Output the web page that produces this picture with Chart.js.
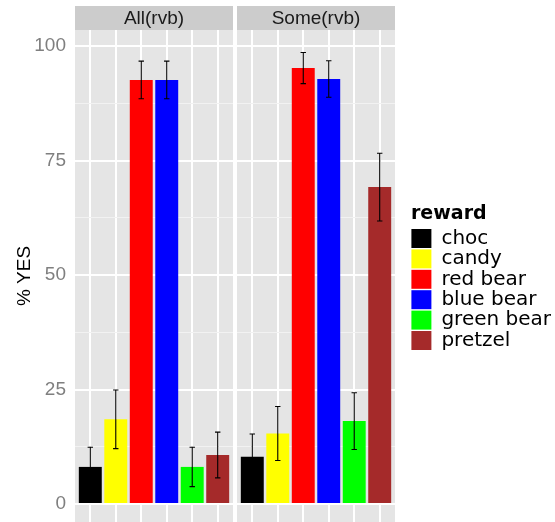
<!DOCTYPE html>
<html>
<head>
<meta charset="utf-8">
<script src="https://cdn.jsdelivr.net/npm/chart.js@4.4.1/dist/chart.umd.min.js"></script>
<style>
    body { margin: 0; background: #fff; overflow: hidden; }
    canvas { position: absolute; top: 0; }
</style>
</head>
<body>
<canvas id="allChart" width="233" height="522" style="left:0"></canvas>
<canvas id="someChart" width="318" height="522" style="left:237px"></canvas>
<script>
// 数据
const categories = ['choc', 'candy', 'red bear', 'blue bear', 'green bear', 'pretzel'];
const barColors = ['#000000', '#ffff00', '#ff0000', '#0000ff', '#00ff00', '#a52a2a'];
const panelNames = ['All(rvb)', 'Some(rvb)'];
const allPct = [8.1, 18.5, 92.6, 92.6, 8.1, 10.7];
const allErr = [4.3, 6.4, 4.1, 4.1, 4.3, 5.0];
const somePct = [10.3, 15.4, 95.2, 92.8, 18.1, 69.2];
const someErr = [5.0, 5.9, 3.4, 4.0, 6.2, 7.4];
const yTicks = [0, 25, 50, 75, 100];

const sans = '"Liberation Sans", Arial, sans-serif';

// 灰色面板 + 分面标签
const ggPanel = {
    id: 'ggPanel',
    beforeDraw(chart, args, opts) {
        const { ctx, chartArea: a } = chart;
        ctx.save();
        ctx.fillStyle = '#e5e5e5';
        ctx.fillRect(a.left, a.top, a.right - a.left, a.bottom - a.top);
        ctx.fillStyle = '#cccccc';
        ctx.fillRect(a.left, a.top - 24, a.right - a.left, 24);
        ctx.fillStyle = '#1a1a1a';
        ctx.font = '19px ' + sans;
        ctx.textAlign = 'center';
        ctx.textBaseline = 'middle';
        ctx.fillText(opts.strip, (a.left + a.right) / 2, a.top - 11.5);
        ctx.restore();
    }
};

// 误差线
const errBars = {
    id: 'errBars',
    afterDatasetsDraw(chart, args, opts) {
        const { ctx } = chart;
        const y = chart.scales.y;
        const meta = chart.getDatasetMeta(0);
        const vals = chart.data.datasets[0].data;
        ctx.save();
        ctx.strokeStyle = '#000';
        ctx.lineWidth = 1.1;
        meta.data.forEach((bar, i) => {
            const v = vals[i].y, e = opts.err[i];
            const top = y.getPixelForValue(v + e);
            const bot = y.getPixelForValue(v - e);
            ctx.beginPath();
            ctx.moveTo(bar.x, top); ctx.lineTo(bar.x, bot);
            ctx.moveTo(bar.x - 2.7, top); ctx.lineTo(bar.x + 2.7, top);
            ctx.moveTo(bar.x - 2.7, bot); ctx.lineTo(bar.x + 2.7, bot);
            ctx.stroke();
        });
        ctx.restore();
    }
};

function makePanel(id, name, pct, err, first) {
    return new Chart(document.getElementById(id), {
        type: 'bar',
        data: {
            datasets: [{
                data: pct.map((v, i) => ({ x: i + 1, y: v })),
                backgroundColor: barColors,
                borderWidth: 0,
                barPercentage: 0.9,
                categoryPercentage: 1
            }]
        },
        options: {
            responsive: false,
            animation: false,
            devicePixelRatio: 1,
            events: [],
            layout: { padding: { top: 30, left: 0, right: 0, bottom: 0 } },
            scales: {
                x: {
                    type: 'linear',
                    min: 0.4,
                    max: 6.6,
                    offset: false,
                    ticks: { display: false, stepSize: 1, includeBounds: false, autoSkip: false },
                    grid: { color: '#ffffff', lineWidth: 2, drawTicks: false, offset: false },
                    border: { display: false },
                    afterFit: s => { s.paddingLeft = 0; s.paddingRight = 0; }
                },
                y: {
                    min: -3.93,
                    max: 103.5,
                    position: first ? 'left' : 'right',
                    ticks: {
                        display: first,
                        stepSize: 12.5,
                        includeBounds: false,
                        autoSkip: false,
                        padding: 9,
                        color: '#7f7f7f',
                        font: { family: sans, size: 19 },
                        callback: v => yTicks.includes(v) ? String(v) : ''
                    },
                    grid: {
                        drawTicks: false,
                        color: c => c.tick && yTicks.includes(c.tick.value) ? '#ffffff' : '#f2f2f2',
                        lineWidth: c => c.tick && yTicks.includes(c.tick.value) ? 2 : 1
                    },
                    border: { display: false },
                    title: {
                        display: first,
                        text: '% YES',
                        color: '#000',
                        font: { family: sans, size: 19 },
                        padding: { top: 13, bottom: 0 }
                    },
                    afterFit: s => {
                        s.width = first ? 75 : 16;
                        s.paddingTop = 0;
                        s.paddingBottom = 0;
                    }
                }
            },
            plugins: {
                tooltip: { enabled: false },
                legend: {
                    display: !first,
                    position: 'right',
                    align: 'center',
                    maxWidth: 144,
                    title: {
                        display: true,
                        text: 'reward',
                        position: 'start',
                        color: '#000',
                        font: { family: 'DejaVu Sans', size: 19, weight: 'bold' },
                        padding: { top: 3.4, bottom: 0.8 }
                    },
                    labels: {
                        boxWidth: 20,
                        boxHeight: 19,
                        padding: 0.4,
                        color: '#000',
                        font: { family: 'DejaVu Sans', size: 20 },
                        generateLabels: () => categories.map((c, i) => ({
                            text: c,
                            fillStyle: barColors[i],
                            strokeStyle: barColors[i],
                            lineWidth: 0,
                            hidden: false,
                            index: i
                        }))
                    }
                },
                ggPanel: { strip: name },
                errBars: { err }
            }
        },
        plugins: [ggPanel, errBars]
    });
}

makePanel('allChart', panelNames[0], allPct, allErr, true);
makePanel('someChart', panelNames[1], somePct, someErr, false);
</script>
</body>
</html>
